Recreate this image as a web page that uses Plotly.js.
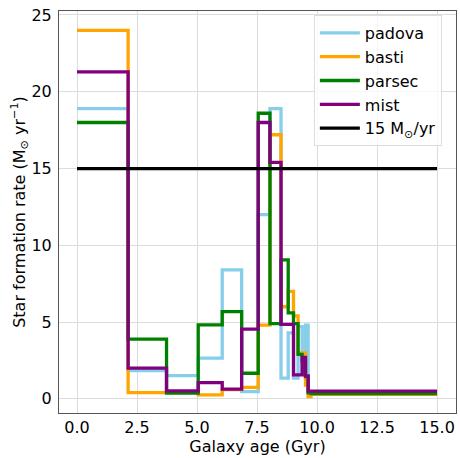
<!DOCTYPE html>
<html><head><meta charset="utf-8">
<script src="https://cdn.plot.ly/plotly-3.0.1.min.js"></script>
<style>html,body{margin:0;padding:0;background:#fff}#chart{width:460px;height:458px}</style>
</head><body><div id="chart"></div>
<script>
// Bin edges (Galaxy age, Gyr)
const binEdges = [0, 2.13, 3.73, 5.05, 6.05, 6.86, 7.55, 8.04, 8.5, 8.8, 9.02, 9.21, 9.38, 9.52, 9.63, 9.75, 15];
// Star formation rate per bin (Msun / yr)
const padova = [18.9, 1.84, 1.52, 2.65, 8.4, 0.47, 12.0, 18.9, 1.35, 4.3, 1.35, 4.7, 1.6, 4.8, 0.4, 0.4];
const basti  = [24.0, 0.41, 0.41, 0.26, 0.6, 0.75, 4.8, 17.2, 6.0, 7.0, 5.4, 3.0, 3.0, 0.9, 0.15, 0.3];
const parsec = [18.0, 3.89, 0.37, 4.82, 5.68, 1.67, 18.6, 4.9, 9.05, 5.6, 4.9, 2.9, 2.5, 1.45, 0.4, 0.35];
const mist   = [21.3, 2.0, 0.52, 1.06, 0.63, 4.54, 18.0, 15.4, 4.85, 4.85, 1.56, 1.56, 2.7, 1.5, 0.5, 0.5];
const refLevel = 15;
const refX = [0, 15];
const seriesNames = ["padova", "basti", "parsec", "mist"];
const seriesColors = ["#87CEEB", "#FFA500", "#008000", "#800080"];
const xTicks = [0, 2.5, 5, 7.5, 10, 12.5, 15];
const xTickText = ["0.0", "2.5", "5.0", "7.5", "10.0", "12.5", "15.0"];
const yTicks = [0, 5, 10, 15, 20, 25];

const allSeries = [padova, basti, parsec, mist];
const traces = allSeries.map((vals, i) => ({
  x: binEdges,
  y: vals.concat([vals[vals.length - 1]]),
  type: "scatter",
  mode: "lines",
  line: {shape: "hv", color: seriesColors[i], width: 3.3},
  name: seriesNames[i]
}));
traces.push({
  x: refX,
  y: refX.map(() => refLevel),
  type: "scatter",
  mode: "lines",
  line: {color: "#000000", width: 3.3},
  name: "15 M<sub>⊙</sub>/yr"
});

const font = {family: "DejaVu Sans, sans-serif", size: 16, color: "#000"};
const layout = {
  width: 460, height: 458,
  margin: {l: 59, r: 4, t: 11, b: 45},
  paper_bgcolor: "#fff", plot_bgcolor: "#fff",
  font: font,
  showlegend: true,
  legend: {
    x: 0.642, y: 0.99, xanchor: "left", yanchor: "top",
    bgcolor: "rgba(255,255,255,0.8)", bordercolor: "#dddddd", borderwidth: 1,
    font: {family: "DejaVu Sans, sans-serif", size: 16, color: "#000"},
    itemwidth: 40
  },
  xaxis: {
    range: [-0.75, 15.79],
    tickvals: xTicks, ticktext: xTickText,
    showgrid: true, gridcolor: "#dcdcdc", gridwidth: 1,
    zeroline: false,
    showline: true, linecolor: "#555", linewidth: 1, mirror: true,
    ticks: "outside", ticklen: 0.1, tickcolor: "rgba(0,0,0,0)",
    tickfont: font,
    title: {text: "Galaxy age (Gyr)", font: font, standoff: 3}
  },
  yaxis: {
    range: [-0.92, 25.26],
    tickvals: yTicks,
    showgrid: true, gridcolor: "#dcdcdc", gridwidth: 1,
    zeroline: false,
    showline: true, linecolor: "#555", linewidth: 1, mirror: true,
    ticks: "outside", ticklen: 3, tickcolor: "rgba(0,0,0,0)",
    tickfont: font,
    title: {text: "Star formation rate (M<sub>⊙</sub> yr<sup>−1</sup>)", font: font, standoff: 1}
  }
};
Plotly.newPlot("chart", traces, layout, {displayModeBar: false, staticPlot: true});
</script>
</body></html>
